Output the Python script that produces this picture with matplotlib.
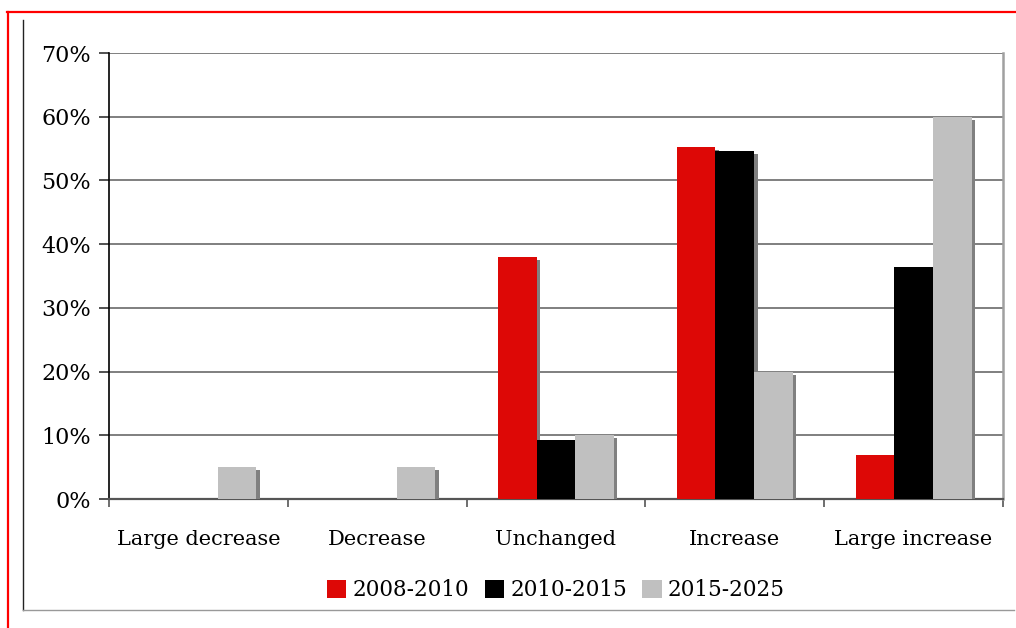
import matplotlib
matplotlib.use("Agg")
import matplotlib.pyplot as plt
from matplotlib.lines import Line2D
from matplotlib.patches import Patch
import matplotlib.patheffects as pe
import numpy as np

categories = ["Large decrease", "Decrease", "Unchanged", "Increase", "Large increase"]
series_names = ["2008-2010", "2010-2015", "2015-2025"]
s_2008_2010 = [0.0, 0.0, 38.0, 55.3, 6.9]
s_2010_2015 = [0.0, 0.0, 9.2, 54.6, 36.4]
s_2015_2025 = [5.0, 5.0, 10.0, 20.0, 60.0]
y_ticks = [0, 10, 20, 30, 40, 50, 60, 70]

colors = ["#DD0806", "#000000", "#C0C0C0"]
shadow_color = "#808080"
font = "DejaVu Serif"

fig = plt.figure(figsize=(10.16, 6.28), dpi=100)
ax = fig.add_axes([109 / 1016, (628 - 499) / 628, (1003 - 109) / 1016, (499 - 53) / 628])

x = np.arange(len(categories))
w = 0.216
shadow = [pe.SimplePatchShadow(offset=(2.5, -2.3), shadow_rgbFace=shadow_color, alpha=1.0), pe.Normal()]
for i, (vals, c) in enumerate(zip([s_2008_2010, s_2010_2015, s_2015_2025], colors)):
    bars = ax.bar(x + (i - 1) * w, vals, width=w, color=c, linewidth=0, zorder=3 + i)
    for b, v in zip(bars, vals):
        if v > 0:
            b.set_path_effects(shadow)

ax.set_xlim(-0.5, len(categories) - 0.5)
ax.set_ylim(0, 70)
ax.set_yticks(y_ticks)
ax.set_yticklabels([f"{t}%" for t in y_ticks], fontfamily=font, fontsize=16)
ax.yaxis.grid(True, color="#7f7f7f", linewidth=1.4, zorder=0)
ax.set_axisbelow(True)

ax.set_xticks(np.arange(len(categories) + 1) - 0.5)
ax.set_xticklabels([])
ax.set_xticks(x, minor=True)
ax.set_xticklabels(categories, minor=True, fontfamily=font, fontsize=15)
ax.tick_params(axis="x", which="major", direction="out", length=6, width=1.2, color="#555555")
ax.tick_params(axis="x", which="minor", length=0, pad=22)
ax.tick_params(axis="y", direction="out", length=7, width=1.2, color="#333333", pad=6)

ax.spines["left"].set_color("#000000")
ax.spines["left"].set_linewidth(1.2)
ax.spines["bottom"].set_color("#555555")
ax.spines["bottom"].set_linewidth(1.6)
ax.spines["right"].set_color("#a0a0a0")
ax.spines["right"].set_linewidth(1.8)
ax.spines["top"].set_visible(False)

handles = [Patch(facecolor=c, edgecolor="none") for c in colors]
fig.legend(handles, series_names, loc="center", bbox_to_anchor=(556 / 1016, 1 - 590 / 628),
           ncol=3, frameon=False, prop={"family": font, "size": 15.5},
           handlelength=0.9, handleheight=0.9, handletextpad=0.3, columnspacing=0.7)

# page frame lines
H, W = 628, 1016
def fline(x0, y0, x1, y1, **kw):
    fig.add_artist(Line2D([x0 / W, x1 / W], [1 - y0 / H, 1 - y1 / H], transform=fig.transFigure, **kw))

fline(7, 12, W, 12, color="#FF0000", linewidth=1.6)
fline(8, 12, 8, H, color="#FF0000", linewidth=1.6)
fline(23, 20, 23, 610, color="#222222", linewidth=1.0)
fline(23, 610, 1014, 610, color="#999999", linewidth=1.0)

fig.savefig("out.png", dpi=100)
